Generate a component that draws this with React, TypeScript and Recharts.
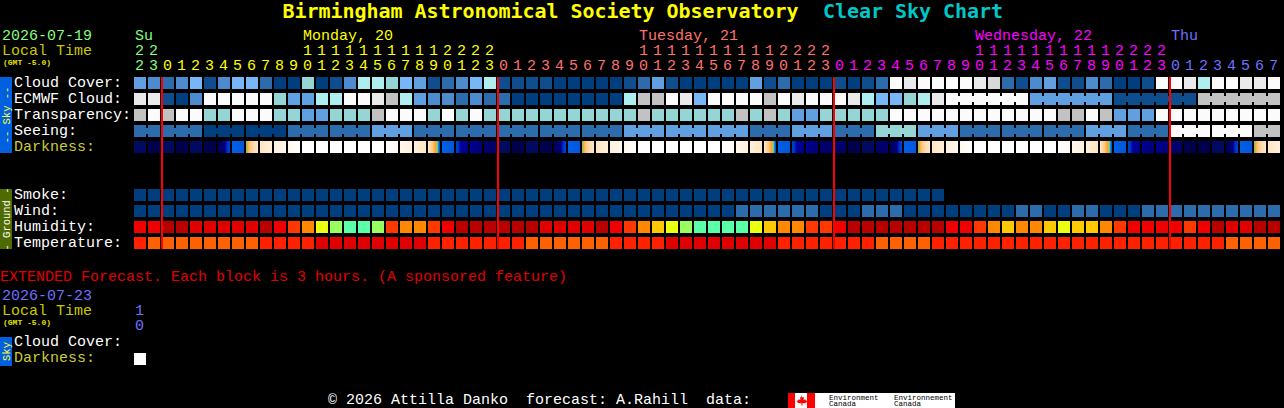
import { ScatterChart, Scatter, XAxis, YAxis } from 'recharts';

// =========================
// CHART DATA
// =========================
const firstHour = 22;
const columnCount = 82;

const cloudLevels = [
  4, 3, 2, 3, 5, 1, 3, 5, 5, 2, 0, 0, 7, 0, 1, 3, 6, 6, 7, 5, 4,
  1, 2, 3, 5, 6, 1, 1, 1, 1, 0, 0, 0, 0, 0, 1, 2, 4, 1, 0, 0, 0, 0, 0, 4, 1, 2, 0, 0, 0, 1, 0,
  1, 2, 10, 9, 10, 10, 10, 10, 9, 11, 2, 1, 3, 4, 1, 1, 3, 2, 0, 0, 1, 10, 10, 9, 6, 10, 10, 9, 9, 10,
];
const ecmwfLevels = [
  9, 9, 1, 0, 3, 10, 10, 10, 10, 10, 7, 4, 4, 6, 6, 10, 10, 9, 8, 6, 4,
  3, 3, 2, 3, 2, 2, 0, 0, 0, 0, 0, 0, 0, 0, 6, 8, 8, 10, 9, 5, 10, 10, 10, 10, 8, 10, 9, 10, 10, 10, 9,
  6, 5, 5, 7, 6, 9,
  10, 10, 10, 10, 10, 10, 4, 4, 4, 4, 4, 4, 1, 1, 1, 1, 1, 1, 8, 8, 8, 8, 8, 8,
];
const ecmwfBlocks = [...Array(58).fill(1), 6, 6, 6, 6];
const transparencyLevels = [
  8, 10, 8, 10, 10, 7, 7, 10, 10, 10, 7, 7, 4, 4, 7, 7, 7, 8, 10, 10, 10,
  7, 10, 7, 10, 7, 7, 7, 7, 7, 7, 7, 7, 7, 7, 7, 8, 7, 7, 7, 7, 7, 7, 8, 7, 8, 7, 4, 4, 7, 7, 7,
  7, 7, 10, 10, 10, 10, 10, 10, 10, 10, 10, 10, 10, 10, 8, 8, 10, 8, 4, 4, 4, 10, 10, 10, 10, 10, 10, 10, 10, 10,
];
const seeingBlockLevels = [2, 2, 0, 0, 2, 2, 4, 2, 2, 2, 2, 2, 4, 4, 4, 2, 4, 2, 7, 4, 2, 2, 2, 4, 2, 10, 10, 8];
const seeingBlocks = [2, 3, 3, 3, 3, 3, 3, 3, 3, 3, 3, 3, 3, 3, 3, 3, 3, 3, 3, 3, 3, 3, 3, 3, 3, 3, 3, 2];
const darknessLevels = [
  1, 0, 1, 0, 1, 0, 5, 6, 7, 8, 9, 10, 11, 11, 11, 11, 11, 11, 15, 14, 12,
  13, 6, 4, 3, 2, 1, 0, 1, 0, 5, 6, 7, 8, 9, 10, 11, 11, 11, 11, 11, 11, 15, 14, 12, 13, 6, 4, 3, 2, 2, 0,
  1, 2, 5, 6, 7, 8, 9, 10, 11, 11, 11, 11, 11, 11, 15, 14, 12, 13, 6, 4, 3, 3, 2, 0, 0, 1, 5, 6, 7, 8,
];
const smokeLevels = [
  0, 0, 0, 0, 0, 0, 0, 0, 0, 0, 0, 0, 0, 0, 0, 0, 0, 0, 0, 0, 0, 0, 0, 0, 0, 0, 0, 0, 0,
  0, 0, 0, 0, 0, 0, 0, 0, 0, 0, 0, 0, 0, 0, 0, 0, 0, 0, 0, 0, 0, 0, 0, 0, 0, 0, 0, 0, 0,
];
const windLevels = [
  0, 0, 0, 0, 0, 0, 0, 0, 0, 0, 0, 0, 0, 0, 0, 0, 0, 0, 0, 0, 0,
  0, 0, 0, 0, 0, 0, 0, 0, 0, 0, 0, 0, 0, 0, 0, 0, 0, 0, 0, 0, 0, 0, 2, 2, 2, 2, 2, 2, 0, 0, 0,
  2, 2, 2, 0, 0, 0, 0, 0, 0, 0, 0, 2, 2, 0, 0, 2, 2, 0, 0, 0, 2, 2, 2, 2, 2, 2, 2, 2, 2, 2,
];
const humidityLevels = [
  2, 2, 0, 0, 1, 1, 1, 1, 1, 0, 2, 3, 4, 6, 7, 8, 8, 7, 3, 4, 4,
  3, 2, 0, 0, 0, 0, 0, 0, 1, 1, 1, 1, 0, 2, 3, 4, 5, 6, 7, 8, 8, 8, 8, 6, 5, 4, 4, 3, 3, 2, 0,
  0, 0, 0, 0, 0, 0, 2, 2, 3, 4, 5, 4, 4, 5, 6, 5, 5, 4, 3, 2, 2, 2, 2, 3, 2, 0, 1, 1, 0, 0,
];
const temperatureLevels = [
  1, 2, 2, 2, 2, 2, 2, 2, 2, 1, 1, 1, 1, 0, 0, 0, 0, 0, 0, 0, 0,
  1, 1, 1, 1, 1, 1, 1, 2, 2, 2, 2, 2, 2, 1, 1, 1, 1, 0, 0, 0, 0, 0, 0, 0, 0, 1, 1, 1, 1, 1, 1,
  1, 2, 2, 2, 2, 1, 1, 1, 1, 1, 1, 1, 1, 1, 1, 1, 1, 1, 1, 1, 1, 1, 1, 1, 1, 1, 2, 2, 2, 2,
];
const extendedDarknessLevels = [11];

const midnightColumns = [2, 26, 50, 74];
const dayStarts = [0, 2, 26, 50, 74];
const dayNames = ['Su', 'Monday, 20', 'Tuesday, 21', 'Wednesday, 22', 'Thu'];
const dayNameColumns = [0, 12, 36, 60, 74];

const rowLabels = ['Cloud Cover:', 'ECMWF Cloud:', 'Transparency:', 'Seeing:', 'Darkness:', 'Smoke:', 'Wind:', 'Humidity:', 'Temperature:', 'Cloud Cover:', 'Darkness:'];
const rowPositions = [0, 1, 2, 3, 4, 7, 8, 9, 10, 16.2, 17.2];

// =========================
// COLOURS
// =========================
const BLUES = ['#003f7f', '#0e4e8e', '#2c6cac', '#4c8cce', '#60a0e0', '#77b7f7', '#aeeeee', '#95d5d5', '#c2c2c2', '#eaeaea', '#fbfbfb', '#d8d8d8'];
const HUMIDITY = ['#b80000', '#e00000', '#f00000', '#ff3800', '#ff8800', '#ffc800', '#ecff10', '#99ff60', '#5affaa'];
const TEMPERATURE = ['#e00000', '#ff2000', '#ff6000'];
const DAY_COLORS = ['#80ff80', '#ffff00', '#ff7070', '#ff00ff', '#7070ff'];
const DARKNESS_STOPS = [
  ['#00004c', '#00004c'],
  ['#000a60', '#000a60'],
  ['#000068', '#000070'],
  ['#000098', '#000078'],
  ['#0040d0', '#0030c0', '#0000a0', '#000098', '#000090', '#000090'],
  ['#000060', '#000060', '#00006c', '#000090', '#0030c8', '#0040d8'],
  ['#0060e4', '#0058dc'],
  ['#00e0f0', '#ffa020', '#ffb040', '#ffc060', '#ffc880', '#ffd090', '#ffd8a0', '#ffdcaa', '#ffe0b4', '#ffe0b8', '#ffe4c0', '#ffe8c8'],
  ['#ffe4c0', '#fff0dc'],
  ['#fff0dc', '#fff8f0'],
  ['#fff8f0', '#ffffff'],
  ['#ffffff', '#ffffff'],
  ['#fff0dc', '#ffe4c0'],
  ['#ffe8c8', '#ffe0b8', '#ffd8a0', '#ffd090', '#ffc880', '#ffc060', '#ffb040', '#ffa020', '#c0c060', '#40d0c0', '#0060e0', '#0058dc'],
  ['#fff8f0', '#fff0dc'],
  ['#ffffff', '#fff8f0'],
];

const MONO = '"Liberation Mono", monospace';
const darkFill = (level: number) => `url(#dark-${level})`;
const blueFill = (level: number) => BLUES[level];
const humidityFill = (level: number) => HUMIDITY[level];
const temperatureFill = (level: number) => TEMPERATURE[level];

// levels + block sizes -> one point per hour, `joined` means a bridge to the next cell
function buildRow(row: number, levels: number[], blocks?: number[]) {
  const starts = new Set<number>();
  let at = 0;
  (blocks || []).forEach((size) => {
    starts.add(at);
    at += size;
  });
  return levels.map((level, i) => ({
    x: i + 0.5,
    y: row,
    level,
    joined: !!blocks && i + 1 < levels.length && !starts.has(i + 1),
  }));
}

const seeingLevels = seeingBlocks.flatMap((size, i) => Array(size).fill(seeingBlockLevels[i]));

const ROWS = [
  { data: buildRow(0, cloudLevels), fill: blueFill },
  { data: buildRow(1, ecmwfLevels, ecmwfBlocks), fill: blueFill },
  { data: buildRow(2, transparencyLevels), fill: blueFill },
  { data: buildRow(3, seeingLevels, seeingBlocks), fill: blueFill },
  { data: buildRow(4, darknessLevels), fill: darkFill },
  { data: buildRow(7, smokeLevels), fill: blueFill },
  { data: buildRow(8, windLevels), fill: blueFill },
  { data: buildRow(9, humidityLevels), fill: humidityFill },
  { data: buildRow(10, temperatureLevels), fill: temperatureFill },
  { data: buildRow(17.25, extendedDarknessLevels), fill: darkFill },
];

const hourTicks = Array.from({ length: columnCount }, (_, i) => i + 0.5);

function dayIndexOf(column: number) {
  let day = 0;
  dayStarts.forEach((start, i) => {
    if (column >= start) day = i;
  });
  return day;
}

function HourTick({ x, payload }: any) {
  const column = Math.floor(payload.value);
  const hour = (firstHour + column) % 24;
  const color = DAY_COLORS[dayIndexOf(column)];
  return (
    <g fontFamily={MONO} fontSize={15} fill={color} textAnchor="middle">
      {hour >= 10 && <text x={x - 1.5} y={55}>{Math.floor(hour / 10)}</text>}
      <text x={x - 1.5} y={70}>{hour % 10}</text>
    </g>
  );
}

function RowTick({ y, payload }: any) {
  const index = rowPositions.indexOf(payload.value);
  const label = rowLabels[index];
  return (
    <text x={14} y={y + 4} fontFamily={MONO} fontSize={15} fill={label === 'Darkness:' ? '#cccc33' : '#ffffff'} textAnchor="start">
      {label}
    </text>
  );
}

const makeCell = (fill: (level: number) => string) => (props: any) => {
  const { cx, cy, payload } = props;
  return (
    <g>
      <rect x={cx - 7} y={cy - 6} width={12} height={12} fill={fill(payload.level)} />
      {payload.joined && <rect x={cx + 5} y={cy - 3} width={2} height={6} fill={fill(payload.level)} />}
    </g>
  );
};

function SideBar({ y, height, color, textColor, label }: any) {
  const mid = y + height / 2;
  return (
    <g>
      <rect x={0} y={y} width={12} height={height} fill={color} />
      <text
        x={6}
        y={mid + 3.5}
        transform={`rotate(-90 6 ${mid})`}
        textAnchor="middle"
        fontFamily={MONO}
        fontSize={10.5}
        fill={textColor}
      >
        {label}
      </text>
    </g>
  );
}

export default function App() {
  return (
    <div style={{ position: 'fixed', left: 0, top: 0, width: 1284, height: 408, background: '#000', overflow: 'hidden' }}>
      <ScatterChart width={1284} height={408} margin={{ top: 45, right: 2, bottom: 41, left: 0 }}>
        <defs>
          {DARKNESS_STOPS.map((stops, level) => (
            <linearGradient key={level} id={`dark-${level}`} x1="0" y1="0" x2="1" y2="0">
              {stops.map((c, i) => (
                <stop key={i} offset={i / (stops.length - 1)} stopColor={c} />
              ))}
            </linearGradient>
          ))}
        </defs>

        <XAxis
          xAxisId={0}
          type="number"
          dataKey="x"
          orientation="top"
          domain={[0, columnCount]}
          ticks={hourTicks}
          interval={0}
          height={30}
          axisLine={false}
          tickLine={false}
          tick={<HourTick />}
        />
        <YAxis
          yAxisId={0}
          type="number"
          dataKey="y"
          reversed
          domain={[-0.5, 17.75]}
          ticks={rowPositions}
          interval={0}
          width={134}
          axisLine={false}
          tickLine={false}
          tick={<RowTick />}
        />

        {ROWS.map((row, i) => (
          <Scatter key={i} data={row.data} shape={makeCell(row.fill)} isAnimationActive={false} />
        ))}

        {/* midnight lines sit on top of the cells, so they come after the rows */}
        {midnightColumns.map((c) => (
          <Scatter
            key={c}
            data={[{ x: c, y: -0.375 }, { x: c, y: 10.375 }]}
            line={{ stroke: '#ff0000', strokeWidth: 2 }}
            shape={() => <g />}
            isAnimationActive={false}
          />
        ))}

        {/* title */}
        <text y={18} fontFamily='"DejaVu Sans Mono", monospace' fontWeight="bold" fontSize={20} letterSpacing={-0.04}>
          <tspan x={282.5} fill="#ffff00">Birmingham Astronomical Society Observatory</tspan>
          <tspan x={823} fill="#00c8c8">Clear Sky Chart</tspan>
        </text>

        {/* top-left date block and day names */}
        <g fontFamily={MONO} fontSize={15}>
          <text x={2} y={40} fill="#80ff80">2026-07-19</text>
          <text x={2} y={55} fill="#c8c800">Local Time</text>
          {dayNames.map((name, i) => (
            <text key={name} x={135 + dayNameColumns[i] * 14} y={40} fill={DAY_COLORS[i]}>{name}</text>
          ))}
        </g>
        <text x={3} y={65} fontFamily={MONO} fontWeight="bold" fontSize={8} fill="#e0e000">(GMT -5.0)</text>

        <SideBar y={77} height={76} color="#0060e0" textColor="#ffff33" label="-- Sky --" />
        <SideBar y={189} height={60} color="#4f6b00" textColor="#ffffff" label="- Ground -" />
        <SideBar y={337} height={29} color="#0060e0" textColor="#ffff33" label="Sky" />

        {/* extended section */}
        <g fontFamily={MONO} fontSize={15}>
          <text x={0} y={281} fill="#e00000">EXTENDED Forecast. Each block is 3 hours. (A sponsored feature)</text>
          <text x={2} y={300} fill="#7070ff">2026-07-23</text>
          <text x={2} y={315} fill="#c8c800">Local Time</text>
          <text x={135} y={315} fill="#7070ff">1</text>
          <text x={135} y={330} fill="#7070ff">0</text>
          <text x={328} y={403.5} fill="#ffffff" xmlSpace="preserve">© 2026 Attilla Danko  forecast: A.Rahill  data:</text>
        </g>
        <text x={3} y={325} fontFamily={MONO} fontWeight="bold" fontSize={8} fill="#e0e000">(GMT -5.0)</text>

        {/* Environment Canada badge */}
        <rect x={788} y={393} width={167} height={15} fill="#ffffff" />
        <rect x={788} y={393} width={7} height={15} fill="#ff0000" />
        <rect x={807} y={393} width={8} height={15} fill="#ff0000" />
        <path d="M801 395l1.5 2.5 1.5-.6-.5 3 1.7-.7.6 1.3 1.7.2-1.6 2.2-3.4.3v2.3h-1v-2.3l-3.4-.3-1.6-2.2 1.7-.2.6-1.3 1.7.7-.5-3 1.5.6z" fill="#ff0000" />
        <g fontFamily={MONO} fontSize={7.5} fill="#000000">
          <text x={829} y={400}>Environment</text>
          <text x={829} y={406}>Canada</text>
          <text x={894} y={400}>Environnement</text>
          <text x={894} y={406}>Canada</text>
        </g>
      </ScatterChart>
    </div>
  );
}
